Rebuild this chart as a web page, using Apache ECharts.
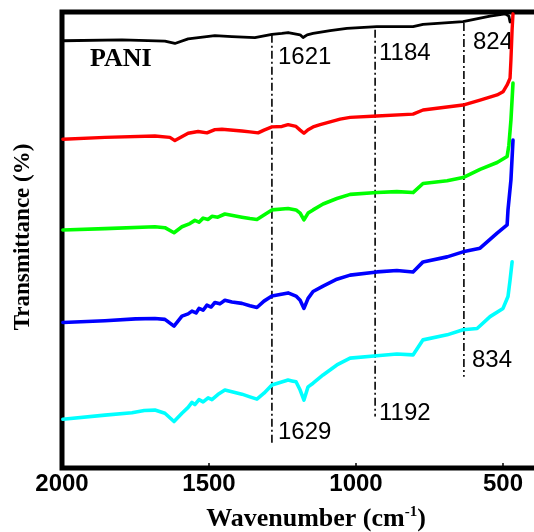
<!DOCTYPE html>
<html>
<head>
<meta charset="utf-8">
<script src="https://cdn.jsdelivr.net/npm/echarts@6/dist/echarts.min.js"></script>
<style>
  html, body { margin: 0; padding: 0; background: #fff; }
  #chart { width: 534px; height: 532px; }
</style>
</head>
<body>
<div id="chart"></div>
<script>
// wavenumber (cm-1) / transmittance (offset, a.u.)
const wnBlack = [1997, 1796, 1650, 1616, 1571, 1480, 1422, 1344, 1286, 1252, 1231, 1190, 1180, 1166, 1146, 1088, 1031, 929, 806, 772, 636, 544, 493, 480, 476]
const tBlack  = [93.7, 93.9, 93.6, 93.1, 94.1, 94.8, 94.6, 94.4, 95.1, 95.3, 95.5, 95.0, 94.4, 95.0, 95.3, 95.9, 96.4, 96.8, 96.8, 97.3, 97.9, 99.1, 99.6, 99.1, 97.8]

const wnRed = [1997, 1854, 1684, 1633, 1616, 1571, 1537, 1507, 1480, 1456, 1388, 1361, 1333, 1313, 1286, 1252, 1231, 1204, 1190, 1177, 1163, 1146, 1122, 1088, 1054, 1020, 929, 806, 772, 636, 578, 520, 500, 486, 476, 473, 469, 466]
const tRed  = [72.1, 72.5, 72.8, 72.5, 71.8, 73.4, 73.8, 73.5, 74.2, 74.3, 73.9, 73.7, 73.5, 74.1, 74.8, 74.9, 75.3, 74.9, 74.1, 73.4, 74.2, 74.8, 75.3, 75.9, 76.5, 76.9, 77.2, 77.6, 78.5, 79.6, 80.7, 81.8, 82.5, 84.0, 85.5, 89.5, 96.1, 99.6]

const wnGreen = [1997, 1854, 1684, 1650, 1619, 1592, 1565, 1548, 1534, 1520, 1503, 1490, 1470, 1446, 1388, 1361, 1337, 1313, 1286, 1231, 1204, 1190, 1177, 1163, 1146, 1112, 1065, 1020, 929, 861, 806, 772, 690, 636, 578, 520, 486, 480, 473, 466]
const tGreen  = [52.2, 52.5, 52.9, 52.7, 51.6, 52.9, 53.6, 54.3, 53.9, 54.8, 54.5, 55.2, 55.0, 55.7, 55.0, 54.7, 54.5, 55.5, 56.6, 56.9, 56.6, 55.9, 54.4, 55.9, 56.6, 57.9, 59.1, 60.0, 60.4, 60.6, 60.4, 62.4, 63.0, 63.7, 65.5, 67.0, 68.3, 70.8, 76.3, 84.4]

const wnBlue = [1997, 1854, 1750, 1684, 1650, 1619, 1592, 1571, 1558, 1544, 1534, 1520, 1507, 1493, 1480, 1463, 1446, 1422, 1388, 1361, 1337, 1313, 1286, 1231, 1204, 1190, 1177, 1163, 1146, 1112, 1065, 1020, 929, 861, 806, 772, 690, 636, 578, 520, 486, 483, 473, 466]
const tBlue  = [31.9, 32.3, 32.7, 32.8, 32.6, 31.1, 33.3, 33.8, 34.4, 34.0, 35.0, 34.6, 35.7, 35.3, 36.3, 36.0, 36.8, 36.4, 36.1, 35.6, 35.2, 36.6, 37.7, 38.4, 37.7, 36.8, 35.0, 37.2, 38.7, 39.9, 41.4, 42.3, 43.0, 43.3, 43.0, 45.2, 46.3, 47.4, 48.2, 51.5, 53.3, 56.6, 63.2, 71.9]

const wnCyan = [1997, 1854, 1762, 1720, 1684, 1650, 1619, 1592, 1571, 1558, 1548, 1534, 1520, 1503, 1490, 1470, 1446, 1388, 1361, 1337, 1313, 1286, 1231, 1218, 1204, 1190, 1177, 1163, 1146, 1112, 1065, 1020, 929, 861, 806, 772, 690, 636, 588, 544, 500, 483, 476, 469]
const tCyan  = [10.7, 11.6, 12.1, 12.6, 12.7, 12.0, 10.2, 12.0, 13.3, 14.4, 13.9, 15.0, 14.5, 15.4, 15.0, 16.1, 17.1, 16.2, 15.6, 15.1, 16.4, 18.2, 19.3, 19.1, 18.9, 17.1, 14.9, 17.8, 18.6, 20.4, 22.6, 24.1, 24.6, 25.0, 24.8, 28.1, 29.2, 30.3, 30.6, 33.2, 35.0, 37.6, 41.2, 45.2]

// reference lines: wavenumber, top and bottom of each dash-dot segment
const refWn = [1286, 935, 633]
const refTop = [95.0, 96.1, 97.6]
const refBottom = [5.5, 11.3, 20.0]

// peak labels
const peakLabels = ['1621', '1184', '824', '1629', '1192', '834']

const xTicks = [2000, 1500, 1000, 500]
const yTicks = [88.8, 61.0, 33.6, 6.1]

const pair = (xs, ys) => xs.map((x, i) => [x, ys[i]])

const curve = (name, xs, ys, color, width) => ({
  name,
  type: 'line',
  data: pair(xs, ys),
  showSymbol: false,
  symbol: 'none',
  silent: true,
  animation: false,
  lineStyle: { color, width, join: 'round', cap: 'round' }
})

const refSeries = refWn.map((w, i) => ({
  type: 'line',
  data: [[w, refTop[i]], [w, refBottom[i]]],
  symbol: 'none',
  silent: true,
  animation: false,
  lineStyle: { color: '#000', width: 1.6, type: [8, 3, 2, 3] }
}))

const chart = echarts.init(document.getElementById('chart'), null, { renderer: 'canvas' })

const numFont = '24px "Liberation Sans", Arial, sans-serif'
const serif = '"Liberation Serif", "Times New Roman", serif'

const option = {
  backgroundColor: '#fff',
  animation: false,
  grid: {
    left: 62,
    top: 12,
    bottom: 64,
    right: -116,
    outerBoundsMode: 'none',
    containLabel: false,
    show: true,
    borderColor: '#000',
    borderWidth: 5,
    backgroundColor: 'transparent'
  },
  xAxis: {
    type: 'value',
    min: 0,
    max: 2000,
    inverse: true,
    axisLine: { show: false },
    splitLine: { show: false },
    axisTick: { show: true, inside: true, length: 5, customValues: xTicks, lineStyle: { color: '#000', width: 1.5 } },
    axisLabel: {
      customValues: xTicks,
      formatter: (v) => String(v),
      margin: 4,
      color: '#000',
      fontSize: 24,
      fontWeight: 'bold',
      fontFamily: '"Liberation Sans", Arial, sans-serif'
    }
  },
  yAxis: {
    type: 'value',
    min: 0,
    max: 100,
    axisLine: { show: false },
    splitLine: { show: false },
    axisTick: { show: true, inside: true, length: 3, customValues: yTicks, lineStyle: { color: '#000', width: 1.5 } },
    axisLabel: { show: false }
  },
  series: [
    ...refSeries,
    curve('PANI', wnBlack, tBlack, '#000000', 2.8),
    curve('red', wnRed, tRed, '#ff0000', 3.4),
    curve('green', wnGreen, tGreen, '#00ff00', 3.6),
    curve('blue', wnBlue, tBlue, '#0000ff', 3.6),
    curve('cyan', wnCyan, tCyan, '#00ffff', 3.6)
  ],
  graphic: [
    { type: 'text', x: 90, y: 59, style: { text: 'PANI', font: 'bold 26px ' + serif, fill: '#000', align: 'left', verticalAlign: 'middle' } },
    { type: 'text', x: 278, y: 57, style: { text: peakLabels[0], font: numFont, fill: '#000', align: 'left', verticalAlign: 'middle' } },
    { type: 'text', x: 379, y: 53, style: { text: peakLabels[1], font: numFont, fill: '#000', align: 'left', verticalAlign: 'middle' } },
    { type: 'text', x: 473, y: 42, style: { text: peakLabels[2], font: numFont, fill: '#000', align: 'left', verticalAlign: 'middle' } },
    { type: 'text', x: 278, y: 432, style: { text: peakLabels[3], font: numFont, fill: '#000', align: 'left', verticalAlign: 'middle' } },
    { type: 'text', x: 379, y: 413, style: { text: peakLabels[4], font: numFont, fill: '#000', align: 'left', verticalAlign: 'middle' } },
    { type: 'text', x: 472, y: 360, style: { text: peakLabels[5], font: numFont, fill: '#000', align: 'left', verticalAlign: 'middle' } },
    {
      type: 'text', x: 316, y: 519,
      style: {
        text: 'Wavenumber (cm{sup|-1})',
        font: 'bold 26px ' + serif,
        fill: '#000',
        align: 'center',
        verticalAlign: 'middle',
        rich: { sup: { font: 'bold 15px ' + serif, fill: '#000', verticalAlign: 'top', padding: [0, 0, 13, 0] } }
      }
    },
    {
      type: 'text', x: 23, y: 237, rotation: Math.PI / 2,
      style: { text: 'Transmittance (%)', font: 'bold 23px ' + serif, fill: '#000', align: 'center', verticalAlign: 'middle' }
    }
  ]
}

chart.setOption(option)
</script>
</body>
</html>
